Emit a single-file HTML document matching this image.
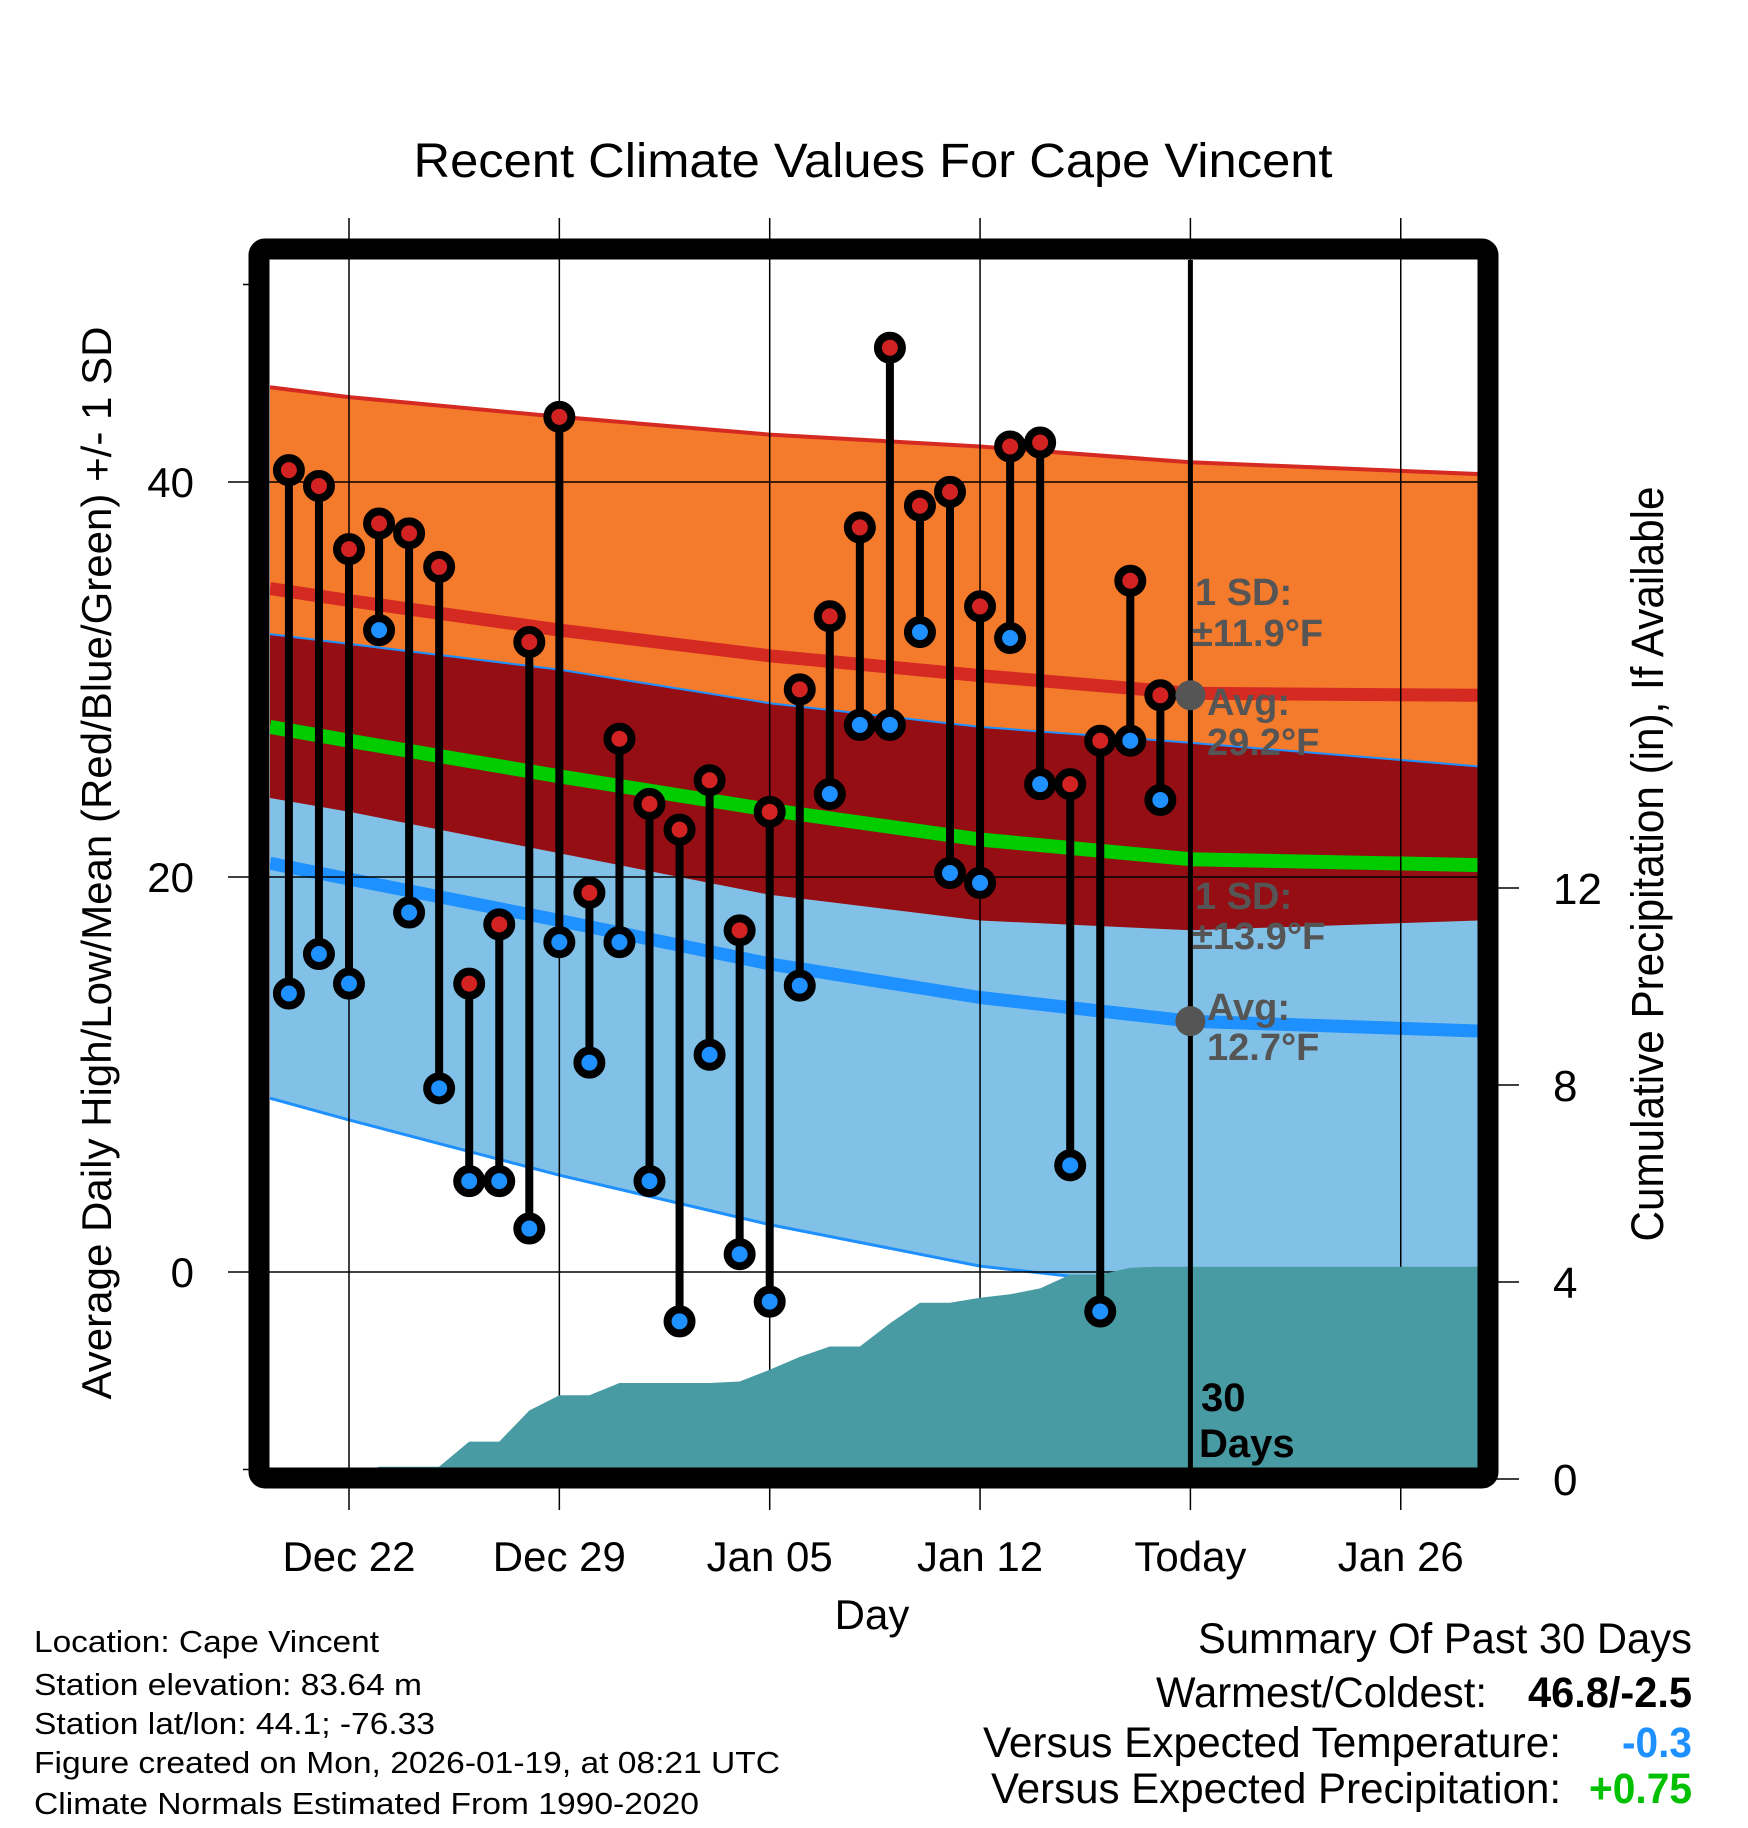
<!DOCTYPE html>
<html><head><meta charset="utf-8"><style>
html,body{margin:0;padding:0;background:#fff;}
svg{display:block;font-family:"Liberation Sans",sans-serif;}
</style></head><body>
<svg id="chart" width="1748" height="1828" viewBox="0 0 1748 1828" xmlns="http://www.w3.org/2000/svg">
<defs><clipPath id="plotclip"><rect x="270" y="260" width="1208" height="1208"/></clipPath></defs>
<text x="873" y="177" text-anchor="middle" font-size="48" textLength="919" lengthAdjust="spacingAndGlyphs">Recent Climate Values For Cape Vincent</text>
<g id="bands" clip-path="url(#plotclip)"></g>
<g id="grid"></g>
<g id="precip" clip-path="url(#plotclip)"></g>
<g id="marks"></g>
<g id="axes"></g>
<rect x="259" y="249" width="1229" height="1229" rx="6" fill="none" stroke="#000" stroke-width="21"/>
<g font-weight="bold" fill="#555" font-size="38">
<text x="1195" y="605">1 SD:</text>
<text x="1192" y="646">±11.9°F</text>
<text x="1207" y="715">Avg:</text>
<text x="1207" y="755">29.2°F</text>
<text x="1195" y="909">1 SD:</text>
<text x="1192" y="949">±13.9°F</text>
<text x="1207" y="1020">Avg:</text>
<text x="1207" y="1060">12.7°F</text>
</g>
<g font-weight="bold" fill="#000" font-size="40">
<text x="1201" y="1411">30</text><text x="1199" y="1457">Days</text></g>
<text x="872" y="1629" text-anchor="middle" font-size="42">Day</text>
<text transform="translate(111,863) rotate(-90)" text-anchor="middle" font-size="42" textLength="1073" lengthAdjust="spacingAndGlyphs">Average Daily High/Low/Mean (Red/Blue/Green) +/- 1 SD</text>
<text transform="translate(1663,864) rotate(-90)" text-anchor="middle" font-size="45" textLength="755" lengthAdjust="spacingAndGlyphs">Cumulative Precipitation (in), If Available</text>
<g font-size="31">
<text x="34" y="1652" textLength="345" lengthAdjust="spacingAndGlyphs">Location: Cape Vincent</text>
<text x="34" y="1695" textLength="388" lengthAdjust="spacingAndGlyphs">Station elevation: 83.64 m</text>
<text x="34" y="1734" textLength="401" lengthAdjust="spacingAndGlyphs">Station lat/lon: 44.1; -76.33</text>
<text x="34" y="1773" textLength="746" lengthAdjust="spacingAndGlyphs">Figure created on Mon, 2026-01-19, at 08:21 UTC</text>
<text x="34" y="1814" textLength="665" lengthAdjust="spacingAndGlyphs">Climate Normals Estimated From 1990-2020</text>
</g>
<g font-size="43">
<text x="1198" y="1653" textLength="494" lengthAdjust="spacingAndGlyphs">Summary Of Past 30 Days</text>
<text x="1156" y="1707" textLength="331" lengthAdjust="spacingAndGlyphs">Warmest/Coldest:</text>
<text x="1528" y="1707" font-weight="bold" textLength="164" lengthAdjust="spacingAndGlyphs">46.8/-2.5</text>
<text x="983" y="1757" textLength="578" lengthAdjust="spacingAndGlyphs">Versus Expected Temperature:</text>
<text x="1622" y="1757" font-weight="bold" fill="#1e90ff" textLength="70" lengthAdjust="spacingAndGlyphs">-0.3</text>
<text x="991" y="1803" textLength="570" lengthAdjust="spacingAndGlyphs">Versus Expected Precipitation:</text>
<text x="1589" y="1803" font-weight="bold" fill="#00c000" textLength="103" lengthAdjust="spacingAndGlyphs">+0.75</text>
</g>
</svg>
<script>
// ---- data (days relative to Dec 22 = 0) ----
const obsDays = [-2,-1,0,1,2,3,4,5,6,7,8,9,10,11,12,13,14,15,16,17,18,19,20,21,22,23,24,25,26,27];
const highs = [40.6,39.8,36.6,37.9,37.4,35.7,14.6,17.6,31.9,43.3,19.2,27.0,23.7,22.4,24.9,17.3,23.3,29.5,33.2,37.7,46.8,38.8,39.5,33.7,41.8,42.0,24.7,26.9,35.0,29.2];
const lows = [14.1,16.1,14.6,32.5,18.2,9.3,4.6,4.6,2.2,16.7,10.6,16.7,4.6,-2.5,11.0,0.9,-1.5,14.5,24.2,27.7,27.7,32.4,20.2,19.7,32.1,24.7,5.4,-2.0,26.9,23.9];
const precip = [0,0,0,0.25,0.25,0.25,0.76,0.76,1.39,1.7,1.7,1.95,1.95,1.95,1.95,1.98,2.22,2.48,2.69,2.69,3.16,3.58,3.58,3.68,3.75,3.87,4.15,4.15,4.29,4.31];
const normDays = [-2.63,0,7,14,21,28,37.6];
const highPlusSD = [44.8,44.3,43.3,42.4,41.8,41.0,40.4];
const highAvg = [34.6,34.0,32.5,31.2,30.2,29.3,29.2];
const lowPlusSD = [32.3,31.8,30.5,28.8,27.6,26.8,25.6];
const meanAvg = [27.6,26.9,25.1,23.4,21.9,20.9,20.6];
const highMinusSD = [24.0,23.3,21.2,19.1,17.8,17.3,17.8];
const lowAvg = [20.7,19.9,17.8,15.6,13.9,12.7,12.2];
const lowMinusSD = [8.8,7.7,4.9,2.4,0.3,-0.9,-1.5];
const xTickDays = [0,7,14,21,28,35];
const xTickLabels = ["Dec 22","Dec 29","Jan 05","Jan 12","Today","Jan 26"];
const yTicks = [0,20,40];
const yMinorTicks = [-10,50];
const y2Ticks = [0,4,8,12];
const todayDay = 28;
const todayHigh = 29.2, todayLow = 12.7;

const NS="http://www.w3.org/2000/svg";
const X = d => 349 + d*30.05;
const Y = t => 1272 - t*19.75;
const YP = p => 1479 - p*49.25;
function mk(tag, attrs, parent){const e=document.createElementNS(NS,tag);for(const k in attrs)e.setAttribute(k,attrs[k]);parent.appendChild(e);return e;}
const bands=document.getElementById('bands'), grid=document.getElementById('grid'), pr=document.getElementById('precip'), marks=document.getElementById('marks'), axes=document.getElementById('axes');
const pts = arr => normDays.map((d,i)=>X(d).toFixed(1)+','+Y(arr[i]).toFixed(1));
function band(top,bot,fill,name){
  const p=mk('polygon',{points:pts(top).concat(pts(bot).reverse()).join(' '),fill:fill},bands);
  
  
}
function line(arr,color,w,name){
  const p=mk('polyline',{points:pts(arr).join(' '),fill:'none',stroke:color,'stroke-width':w,'stroke-linejoin':'round'},bands);
  
  
}
band(highPlusSD,highMinusSD,'#f47a2c','high-sd-band');
band(lowPlusSD,lowMinusSD,'#82c1e7','low-sd-band');
band(lowPlusSD,highMinusSD,'#940e14','overlap-band');
line(highPlusSD,'#d42a22',4,'high-plus-sd-line');
line(lowPlusSD,'#1e90ff',2,'low-plus-sd-line');
line(lowMinusSD,'#1e90ff',3,'low-minus-sd-line');
line(highAvg,'#d42a22',13,'high-avg-line');
line(meanAvg,'#00cc00',14,'mean-line');
line(lowAvg,'#1e90ff',13,'low-avg-line');

xTickDays.forEach((d,i)=>{
  const l=mk('line',{x1:X(d),x2:X(d),y1:218,y2:1510,stroke:'#000','stroke-width':1.5},grid);
  
  
  const t=mk('text',{x:X(d),y:1571,'text-anchor':'middle','font-size':42},axes);
  t.textContent=xTickLabels[i];
  
  
});
yTicks.forEach(v=>{
  const l=mk('line',{x1:228,x2:1478,y1:Y(v),y2:Y(v),stroke:'#000','stroke-width':1.5},grid);
  
  
  const t=mk('text',{x:194,y:Y(v)+15,'text-anchor':'end','font-size':42},axes);
  t.textContent=v;
  
  
});
yMinorTicks.forEach(v=>{
  const l=mk('line',{x1:243,x2:260,y1:Y(v),y2:Y(v),stroke:'#000','stroke-width':1.5},axes);
  
  
});
y2Ticks.forEach(v=>{
  const l=mk('line',{x1:1490,x2:1519,y1:YP(v),y2:YP(v),stroke:'#000','stroke-width':1.5},axes);
  
  
  const t=mk('text',{x:1553,y:YP(v)+16,'text-anchor':'start','font-size':44},axes);
  t.textContent=v;
  
  
});

let pp=[X(obsDays[0])+','+YP(0)];
obsDays.forEach((d,i)=>pp.push(X(d).toFixed(1)+','+YP(precip[i]).toFixed(1)));
pp.push('1480,'+YP(precip[precip.length-1]).toFixed(1));
pp.push('1480,'+YP(0));
const pa=mk('polygon',{points:pp.join(' '),fill:'#489aa3'},pr);



const tl=mk('line',{x1:X(todayDay),x2:X(todayDay),y1:260,y2:1468,stroke:'#000','stroke-width':5},marks);



obsDays.forEach((d,i)=>{
  const s=mk('line',{x1:X(d),x2:X(d),y1:Y(highs[i]),y2:Y(lows[i]),stroke:'#000','stroke-width':8},marks);
  
  
});
obsDays.forEach((d,i)=>{
  const h=mk('circle',{cx:X(d),cy:Y(highs[i]),r:12,fill:'#d32222',stroke:'#000','stroke-width':8},marks);
  
  
  const l=mk('circle',{cx:X(d),cy:Y(lows[i]),r:12,fill:'#1e90ff',stroke:'#000','stroke-width':8},marks);
  
  
});
[todayHigh,todayLow].forEach(v=>{
  const c=mk('circle',{cx:X(todayDay),cy:Y(v),r:15,fill:'#555'},marks);
  
  
});
</script>
</body></html>
